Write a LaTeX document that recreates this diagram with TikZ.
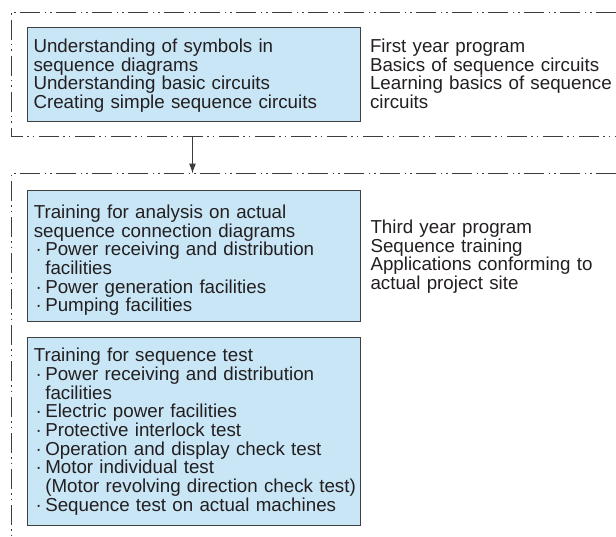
\documentclass[tikz,border=0pt]{standalone}
\usepackage{fontspec}
\setmainfont{Liberation Sans}
\usetikzlibrary{arrows.meta}
\definecolor{boxfill}{HTML}{C9E6F6}
\definecolor{boxline}{HTML}{404040}
\definecolor{frameline}{HTML}{3C3C3C}
\definecolor{txt}{HTML}{231F20}
\newcommand{\bul}{\makebox[11.5pt][l]{\hspace{1.8pt}·}}
\newcommand{\ind}{\hspace*{11.5pt}}
\newcommand{\diagfont}{\fontsize{18.75pt}{18.7pt}\selectfont\hyphenpenalty=10000\relax\exhyphenpenalty=10000\relax}
\tikzset{
  box/.style={draw=boxline, fill=boxfill, line width=1.2pt, inner sep=0, anchor=north west},
  frame/.style={draw=frameline, line width=1pt, dash pattern=on 20pt off 4pt on 1.6pt off 4pt on 1.6pt off 4.8pt},
  txtnode/.style={anchor=base west, inner sep=0, text=txt, text width=330pt, align=left,
    font=\diagfont},
  conn/.style={draw=frameline, line width=1pt, -{Latex[length=10pt,width=7pt]}}
}
\begin{document}
\begin{tikzpicture}[x=1pt,y=-1pt]
\useasboundingbox (0,0) rectangle (616,536);
% frames
\draw[frame] (616,12) -- (11.5,12) -- (11.5,136) -- (616,136);
\draw[frame] (616,173.5) -- (11.5,173.5) -- (11.5,536);
\coordinate (f1b) at (192.5,136);
\coordinate (f2t) at (192.5,173.5);
\draw[conn] (f1b) -- (f2t);
% boxes
\node[box, minimum width=333pt, minimum height=94pt] (b1) at (26.5,26.5) {};
\node[box, minimum width=333pt, minimum height=131.5pt] (b2) at (26.5,189.5) {};
\node[box, minimum width=333pt, minimum height=188.5pt] (b3) at (26.5,336.5) {};
% texts
\node[txtnode] (t1) at (33.3,52.3) {Understanding of symbols in\\sequence diagrams\\Understanding basic circuits\\Creating simple sequence circuits};
\node[txtnode, text width=260pt] (r1) at (369.8,52.3) {First year program\\Basics of sequence circuits\\Learning basics of sequence\\circuits};
\node[txtnode] (t2) at (33.6,218.3) {Training for analysis on actual\\sequence connection diagrams\\\bul Power receiving and distribution\\\ind facilities\\\bul Power generation facilities\\\bul Pumping facilities};
\node[txtnode, text width=260pt] (r2) at (370.3,233.3) {Third year program\\Sequence training\\Applications conforming to\\actual project site};
\node[txtnode] (t3) at (33.6,361.7) {Training for sequence test\\\bul Power receiving and distribution\\\ind facilities\\\bul Electric power facilities\\\bul Protective interlock test\\\bul Operation and display check test\\\bul Motor individual test\\\ind (Motor revolving direction check test)\\\bul Sequence test on actual machines};
\end{tikzpicture}
\end{document}
